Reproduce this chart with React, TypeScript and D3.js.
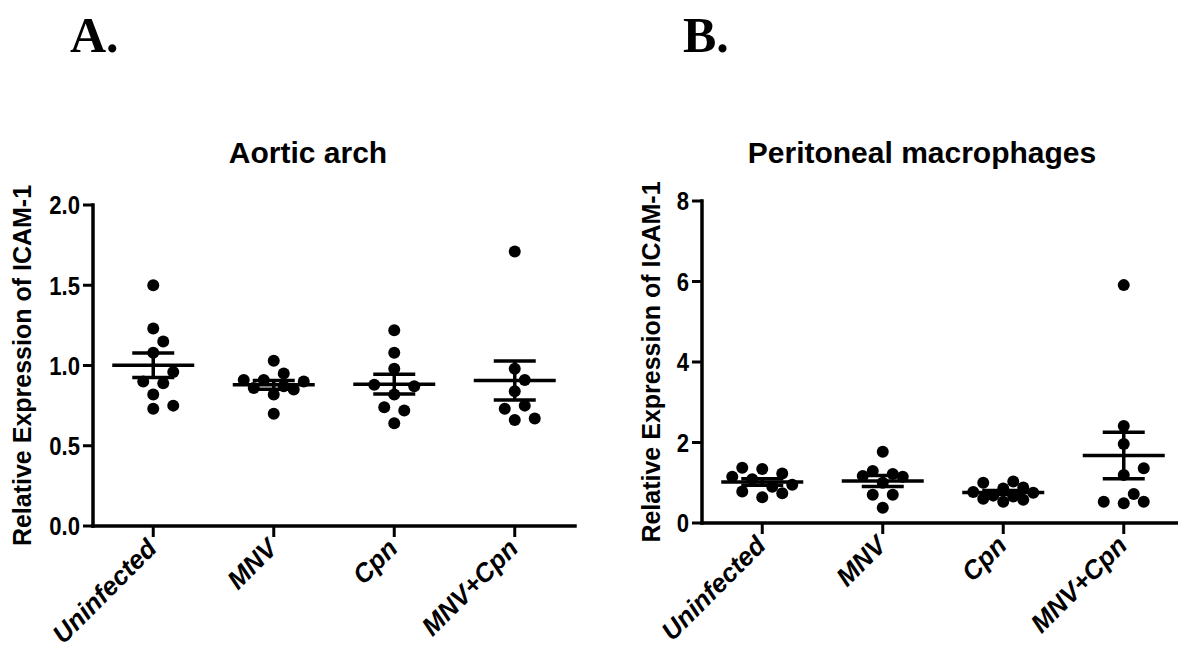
import React from 'react'
import * as d3 from 'd3'

const groups = ['Uninfected', 'MNV', 'Cpn', 'MNV+Cpn']

// A. Aortic arch
const aorticUninfected = [1.5, 1.23, 1.15, 1.08, 0.96, 0.9, 0.89, 0.82, 0.75, 0.73]
const aorticMNV = [1.03, 0.95, 0.91, 0.91, 0.9, 0.87, 0.86, 0.85, 0.82, 0.7]
const aorticCpn = [1.22, 1.08, 0.98, 0.88, 0.87, 0.82, 0.74, 0.72, 0.64]
const aorticMNVCpn = [1.71, 0.98, 0.91, 0.84, 0.75, 0.73, 0.67, 0.66]
const aorticTicks = [0, 0.5, 1, 1.5, 2]

// B. Peritoneal macrophages
const macroUninfected = [1.37, 1.34, 1.23, 1.15, 1.09, 0.95, 0.9, 0.78, 0.74, 0.64]
const macroMNV = [1.77, 1.29, 1.22, 1.17, 1.15, 1.0, 0.7, 0.7, 0.38]
const macroCpn = [1.03, 1.0, 0.88, 0.86, 0.77, 0.75, 0.68, 0.66, 0.6, 0.58, 0.53]
const macroMNVCpn = [5.91, 2.41, 1.96, 1.36, 1.19, 0.72, 0.53, 0.53, 0.49]
const macroTicks = [0, 2, 4, 6, 8]

const FONT = '"Liberation Sans", Arial, sans-serif'
const R = 6

// spread points sideways (lowest first); when the cluster is too dense,
// keep within maxSlot and take the least crowded slot
function swarm(values: number[], y: (v: number) => number, minDist: number, step: number, maxSlot: number) {
  const placed: { v: number; y: number; dx: number }[] = []
  const sorted = [...values].sort((a, b) => a - b)
  for (const v of sorted) {
    const py = y(v)
    let best = 0
    let bestD = -1
    for (let k = 0; k <= maxSlot * 2; k++) {
      const slot = k === 0 ? 0 : k % 2 ? (k + 1) / 2 : -k / 2
      const dx = slot * step
      const d = placed.length ? Math.min(...placed.map(q => Math.hypot(q.dx - dx, q.y - py))) : Infinity
      if (d >= minDist) {
        best = dx
        bestD = d
        break
      }
      if (d > bestD + 0.5) {
        best = dx
        bestD = d
      }
    }
    placed.push({ v, y: py, dx: best })
  }
  return placed
}

type PanelProps = {
  title: string
  titleX: number
  data: number[][]
  domain: [number, number]
  ticks: number[]
  fmt: string
  left: number
  right: number
  top: number
  bottom: number
  labelX: number
}

const Panel = ({ title, titleX, data, domain, ticks, fmt, left, right, top, bottom, labelX }: PanelProps) => {
  const x = d3.scalePoint<string>().domain(groups).range([left, right]).padding(0.5)
  const y = d3.scaleLinear().domain(domain).range([bottom, top])
  const f = d3.format(fmt)
  const midY = (top + bottom) / 2

  return (
    <g>
      <text x={titleX} y={163} textAnchor="middle" fontFamily={FONT} fontWeight="bold" fontSize={30}>
        {title}
      </text>
      <text
        transform={`translate(${labelX},${midY}) rotate(-90)`}
        textAnchor="middle"
        fontFamily={FONT}
        fontWeight="bold"
        fontSize={25}
      >
        Relative Expression of ICAM-1
      </text>

      {/* y axis */}
      <line x1={left} x2={left} y1={top} y2={bottom} stroke="#000" strokeWidth={3.5} strokeLinecap="square" />
      {ticks.map(t => (
        <g key={t}>
          <line x1={left - 10} x2={left} y1={y(t)} y2={y(t)} stroke="#000" strokeWidth={3} />
          <text
            transform={`translate(${left - 13},${y(t)}) scale(0.85,1)`}
            dy="0.36em"
            textAnchor="end"
            fontFamily={FONT}
            fontWeight="bold"
            fontSize={26}
          >
            {f(t)}
          </text>
        </g>
      ))}

      {/* x axis */}
      <line x1={left} x2={right} y1={bottom} y2={bottom} stroke="#000" strokeWidth={3.5} strokeLinecap="square" />
      {groups.map(g => (
        <g key={g}>
          <line x1={x(g)} x2={x(g)} y1={bottom} y2={bottom + 11} stroke="#000" strokeWidth={3} />
          <text
            transform={`translate(${(x(g) ?? 0) + 5},${bottom + 24}) rotate(-45)`}
            textAnchor="end"
            fontFamily={FONT}
            fontWeight="bold"
            fontStyle="italic"
            fontSize={26}
          >
            {g}
          </text>
        </g>
      ))}

      {/* points with mean and SEM */}
      {data.map((vals, i) => {
        const cx = x(groups[i]) ?? 0
        const m = d3.mean(vals) ?? 0
        const sem = (d3.deviation(vals) ?? 0) / Math.sqrt(vals.length)
        const pts = swarm(vals, y, 14, 10, 3)
        return (
          <g key={i}>
            {pts.map((p, j) => (
              <circle key={j} cx={cx + p.dx} cy={p.y} r={R} fill="#000" />
            ))}
            <line x1={cx - 41} x2={cx + 41} y1={y(m)} y2={y(m)} stroke="#000" strokeWidth={3.5} />
            <line x1={cx} x2={cx} y1={y(m - sem)} y2={y(m + sem)} stroke="#000" strokeWidth={3.5} />
            <line x1={cx - 21} x2={cx + 21} y1={y(m + sem)} y2={y(m + sem)} stroke="#000" strokeWidth={3.5} />
            <line x1={cx - 21} x2={cx + 21} y1={y(m - sem)} y2={y(m - sem)} stroke="#000" strokeWidth={3.5} />
          </g>
        )
      })}
    </g>
  )
}

export default function App() {
  return (
    <svg
      width={1178}
      height={649}
      style={{ position: 'absolute', left: 0, top: 0, background: '#fff' }}
    >
      <text x={70} y={52} fontFamily='"Liberation Serif", "Times New Roman", serif' fontWeight="bold" fontSize={50}>
        A.
      </text>
      <text x={683} y={52} fontFamily='"Liberation Serif", "Times New Roman", serif' fontWeight="bold" fontSize={50}>
        B.
      </text>
      <Panel
        title="Aortic arch"
        titleX={308}
        data={[aorticUninfected, aorticMNV, aorticCpn, aorticMNVCpn]}
        domain={[0, 2]}
        ticks={aorticTicks}
        fmt=".1f"
        left={93}
        right={575}
        top={205}
        bottom={526}
        labelX={31}
      />
      <Panel
        title="Peritoneal macrophages"
        titleX={922}
        data={[macroUninfected, macroMNV, macroCpn, macroMNVCpn]}
        domain={[0, 8]}
        ticks={macroTicks}
        fmt="d"
        left={702}
        right={1184}
        top={201}
        bottom={523}
        labelX={660}
      />
    </svg>
  )
}
